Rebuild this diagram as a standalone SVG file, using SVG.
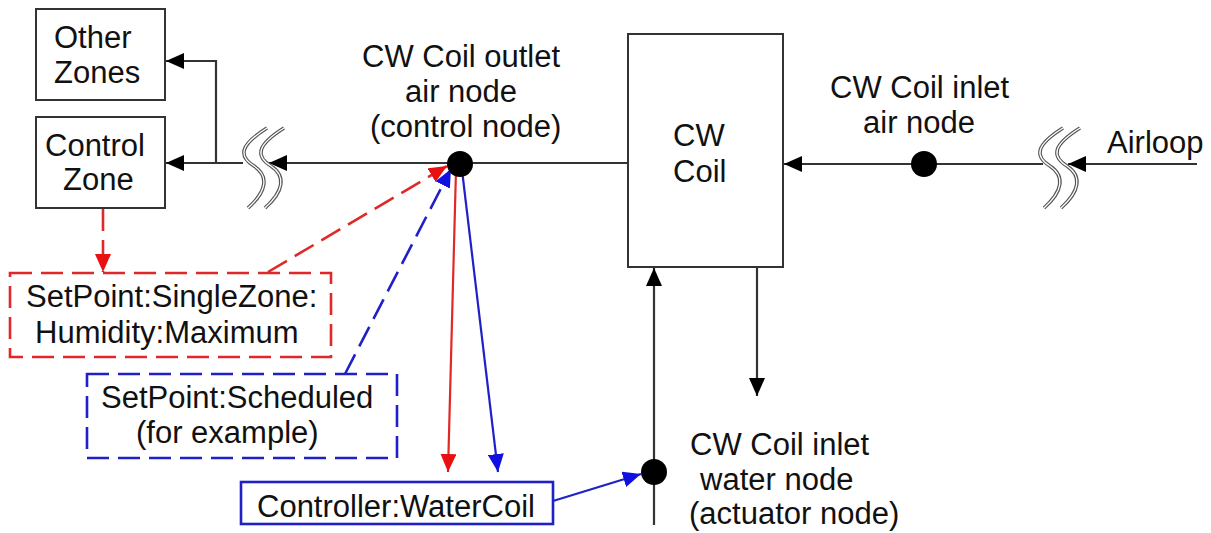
<svg xmlns="http://www.w3.org/2000/svg" width="1211" height="533" viewBox="0 0 1211 533">
<style>
text{font-family:"Liberation Sans",Arial,sans-serif;font-size:31px;fill:#111}
.box{fill:#fff;stroke:#333;stroke-width:2}
.ln{fill:none;stroke:#333;stroke-width:2.2}
.rd{fill:none;stroke:#e02828;stroke-width:2.6;stroke-dasharray:22 9}
.bd{fill:none;stroke:#2020c8;stroke-width:2.6;stroke-dasharray:22 9}
.rs{fill:none;stroke:#e02828;stroke-width:2.2}
.bs{fill:none;stroke:#2020c8;stroke-width:2.2}
.brk1{fill:none;stroke:#555;stroke-width:3.6}
.brk2{fill:none;stroke:#fff;stroke-width:1.3}
</style>
<defs>
<marker id="ak" viewBox="0 0 18 16" refX="18" refY="8" markerWidth="18" markerHeight="16" markerUnits="userSpaceOnUse" orient="auto"><path d="M0,0 L18,8 L0,16 Z" fill="#000"/></marker>
<marker id="ar" viewBox="0 0 18 16" refX="18" refY="8" markerWidth="18" markerHeight="16" markerUnits="userSpaceOnUse" orient="auto"><path d="M0,0 L18,8 L0,16 Z" fill="#e81010"/></marker>
<marker id="ab" viewBox="0 0 18 16" refX="18" refY="8" markerWidth="18" markerHeight="16" markerUnits="userSpaceOnUse" orient="auto"><path d="M0,0 L18,8 L0,16 Z" fill="#1010e0"/></marker>
<g id="brk">
<path class="brk1" d="M267,128 C240,145 238,156 254,166 C269,176 267,191 248,208"/>
<path class="brk2" d="M267,128 C240,145 238,156 254,166 C269,176 267,191 248,208"/>
<path class="brk1" d="M284,128 C257,145 255,156 271,166 C286,176 284,191 265,208"/>
<path class="brk2" d="M284,128 C257,145 255,156 271,166 C286,176 284,191 265,208"/>
</g>
</defs>

<g id="connectors">
<path class="ln" d="M216,163 L216,61 L166,61" marker-end="url(#ak)"/>
<path class="ln" d="M243,163 L166,163" marker-end="url(#ak)"/>
<path class="ln" d="M628,163 L269,163" marker-end="url(#ak)"/>
<path class="ln" d="M1197,164 L1068,164" marker-end="url(#ak)"/>
<path class="ln" d="M1043,164 L784,164" marker-end="url(#ak)"/>
<path class="ln" d="M654,525 L654,268" marker-end="url(#ak)"/>
<path class="ln" d="M757,267 L757,396" marker-end="url(#ak)"/>
<path class="rd" d="M103,209 L103,272" marker-end="url(#ar)"/>
<path class="rd" d="M268,272 L447,166" marker-end="url(#ar)"/>
<path class="bd" d="M345,374 L451,169" marker-end="url(#ab)"/>
<path class="rs" d="M456,170 L448,472" marker-end="url(#ar)"/>
<path class="bs" d="M462,170 L498,472" marker-end="url(#ab)"/>
<path class="bs" d="M553,501 L641,474" marker-end="url(#ab)"/>
<use href="#brk"/>
<use href="#brk" transform="translate(796,0)"/>
</g>

<g id="other-zones"><rect class="box" x="36" y="9" width="129" height="91"/><text x="54" y="48">Other</text><text x="54" y="83">Zones</text></g>
<g id="control-zone"><rect class="box" x="36" y="117" width="129" height="91"/><text x="45" y="156">Control</text><text x="63" y="190">Zone</text></g>
<g id="cw-coil"><rect class="box" x="628" y="34" width="155" height="233"/><text x="673" y="146">CW</text><text x="673" y="182">Coil</text></g>
<g id="outlet-node"><circle cx="460" cy="164" r="13" fill="#000"/><text x="362" y="67">CW Coil outlet</text><text x="405" y="102">air node</text><text x="370" y="137">(control node)</text></g>
<g id="inlet-air-node"><circle cx="924" cy="164" r="13" fill="#000"/><text x="830" y="98">CW Coil inlet</text><text x="863" y="133">air node</text></g>
<g id="airloop"><text x="1107" y="153">Airloop</text></g>
<g id="inlet-water-node"><circle cx="654" cy="472" r="13" fill="#000"/><text x="690" y="455">CW Coil inlet</text><text x="700" y="490">water node</text><text x="689" y="524">(actuator node)</text></g>
<g id="setpoint-humidity"><rect class="rd" x="10" y="273" width="321" height="84"/><text x="26" y="307">SetPoint:SingleZone:</text><text x="35" y="343">Humidity:Maximum</text></g>
<g id="setpoint-scheduled"><rect class="bd" x="87" y="374" width="310" height="84"/><text x="101" y="408">SetPoint:Scheduled</text><text x="136" y="443">(for example)</text></g>
<g id="controller"><rect x="241" y="482" width="312" height="42" fill="#fff" stroke="#2020c8" stroke-width="2.6"/><text x="257" y="517">Controller:WaterCoil</text></g>
</svg>
